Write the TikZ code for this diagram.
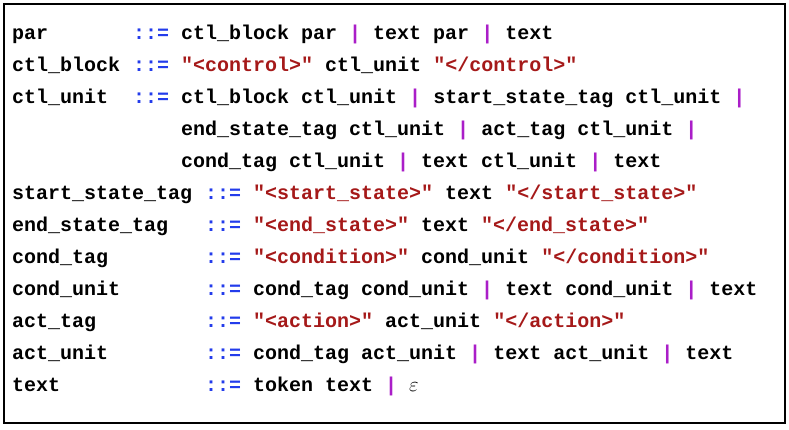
\documentclass[tikz,border=0pt]{standalone}
\usepackage{fontspec}
\setmonofont{Liberation Mono}
\usetikzlibrary{positioning}
\definecolor{defblue}{RGB}{35,60,235}
\definecolor{barpurple}{RGB}{170,30,200}
\definecolor{strred}{RGB}{165,25,25}
\newcommand{\defs}{\textcolor{defblue}{::=}}
\newcommand{\alt}{\textcolor{barpurple}{|}}
\newcommand{\lit}[1]{\textcolor{strred}{"#1"}}
\tikzset{
  rule/.style={anchor=base west, inner sep=0pt, font=\ttfamily\bfseries\fontsize{20pt}{20pt}\selectfont},
}
\begin{document}
\begin{tikzpicture}[x=1pt,y=-1pt]
\useasboundingbox (0,0) rectangle (789,429);
\draw[line width=1.2pt] (4,4) rectangle (785,423);
% left hand sides
\node[rule] (par) at (12,39) {par};
\node[rule] (ctlblock) at (12,71) {ctl\_block};
\node[rule] (ctlunit) at (12,103) {ctl\_unit};
\node[rule] (startstate) at (12,199) {start\_state\_tag};
\node[rule] (endstate) at (12,231) {end\_state\_tag};
\node[rule] (condtag) at (12,263) {cond\_tag};
\node[rule] (condunit) at (12,295) {cond\_unit};
\node[rule] (acttag) at (12,327) {act\_tag};
\node[rule] (actunit) at (12,359) {act\_unit};
\node[rule] (text) at (12,391) {text};
% right hand sides
\node[rule] (rpar) at (133,39) {\defs{} ctl\_block par \alt{} text par \alt{} text};
\node[rule] (rctlblock) at (133,71) {\defs{} \lit{<control>} ctl\_unit \lit{</control>}};
\node[rule] (rctlunit) at (133,103) {\defs{} ctl\_block ctl\_unit \alt{} start\_state\_tag ctl\_unit \alt};
\node[rule] (rctlunit2) at (181,135) {end\_state\_tag ctl\_unit \alt{} act\_tag ctl\_unit \alt};
\node[rule] (rctlunit3) at (181,167) {cond\_tag ctl\_unit \alt{} text ctl\_unit \alt{} text};
\node[rule] (rstartstate) at (205,199) {\defs{} \lit{<start\_state>} text \lit{</start\_state>}};
\node[rule] (rendstate) at (205,231) {\defs{} \lit{<end\_state>} text \lit{</end\_state>}};
\node[rule] (rcondtag) at (205,263) {\defs{} \lit{<condition>} cond\_unit \lit{</condition>}};
\node[rule] (rcondunit) at (205,295) {\defs{} cond\_tag cond\_unit \alt{} text cond\_unit \alt{} text};
\node[rule] (racttag) at (205,327) {\defs{} \lit{<action>} act\_unit \lit{</action>}};
\node[rule] (ractunit) at (205,359) {\defs{} cond\_tag act\_unit \alt{} text act\_unit \alt{} text};
\node[rule] (rtext) at (205,391) {\defs{} token text \alt{} \textnormal{$\varepsilon$}};
\end{tikzpicture}
\end{document}
